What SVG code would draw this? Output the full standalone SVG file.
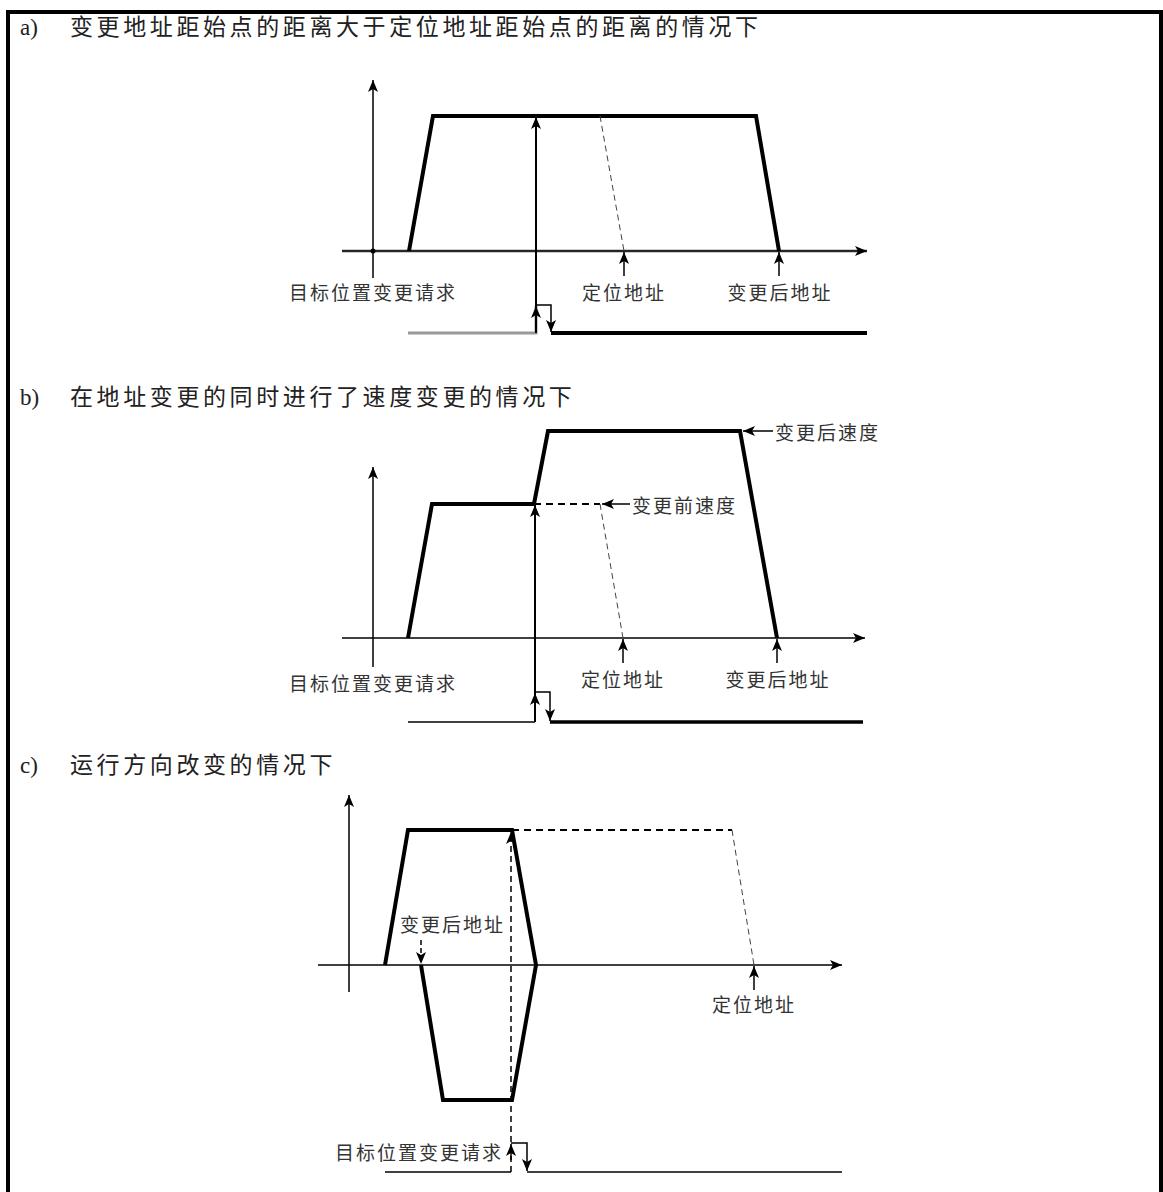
<svg xmlns="http://www.w3.org/2000/svg" width="1163" height="1192" viewBox="0 0 1163 1192">
<style>
.title{font-family:"Noto Sans CJK SC","Noto Sans",sans-serif;font-size:23px;letter-spacing:3.6px;fill:#222}
.lab{font-family:"Noto Sans CJK SC","Noto Sans",sans-serif;font-size:19px;letter-spacing:2px;fill:#333}
.pre{font-family:"Liberation Serif",serif;font-size:23px;fill:#222}
.ax{stroke:#000;stroke-width:1.5;fill:none}
.prof{stroke:#000;stroke-width:4;fill:none;stroke-linejoin:miter}
.thin{stroke:#000;stroke-width:1.5;fill:none}
.dthick{stroke:#000;stroke-width:2;fill:none;stroke-dasharray:7 5}
.dthin{stroke:#444;stroke-width:1;fill:none;stroke-dasharray:6 4}
.tall{stroke:#000;stroke-width:2;fill:none}
</style>
<defs>
<marker id="ah" viewBox="0 0 12 10" refX="12" refY="5" markerWidth="12" markerHeight="10" orient="auto" markerUnits="userSpaceOnUse"><path d="M0,0 L12,5 L0,10 L3,5 z" fill="#000"/></marker>
</defs>
<path d="M8,1192 V12 H1161 V1192" fill="none" stroke="#000" stroke-width="4"/>

<g id="titles">
<text class="pre" x="20" y="35">a)</text><text class="title" x="70" y="35">变更地址距始点的距离大于定位地址距始点的距离的情况下</text>
<text class="pre" x="20" y="405">b)</text><text class="title" x="70" y="405">在地址变更的同时进行了速度变更的情况下</text>
<text class="pre" x="20" y="773">c)</text><text class="title" x="70" y="773">运行方向改变的情况下</text>
</g>

<g id="section-a">
<line class="ax" x1="373" y1="278" x2="373" y2="80" marker-end="url(#ah)"/>
<line x1="342" y1="251" x2="867" y2="251" stroke="#999" stroke-width="3"/>
<line class="ax" x1="342" y1="251" x2="867" y2="251" marker-end="url(#ah)"/>
<circle cx="373" cy="251" r="2.5" fill="#000"/>
<polyline class="prof" points="409,251 433,116 756,116 779,251"/>
<line class="dthin" x1="600" y1="116" x2="624" y2="251"/>
<line class="thin" x1="624" y1="276" x2="624" y2="252" marker-end="url(#ah)"/>
<line class="thin" x1="779" y1="276" x2="779" y2="252" marker-end="url(#ah)"/>
<text class="lab" x="624" y="300" text-anchor="middle">定位地址</text>
<text class="lab" x="780" y="300" text-anchor="middle">变更后地址</text>
<text class="lab" x="373" y="300" text-anchor="middle">目标位置变更请求</text>
<path d="M408,333 H536 V306" fill="none" stroke="#999" stroke-width="3"/>
<line class="tall" x1="536" y1="333" x2="536" y2="117" marker-end="url(#ah)"/>
<line class="tall" x1="536" y1="333" x2="536" y2="306" marker-end="url(#ah)"/>
<path class="thin" d="M536,305 H551 V332" marker-end="url(#ah)"/>
<line x1="551" y1="333" x2="867" y2="333" stroke="#000" stroke-width="4"/>
</g>

<g id="section-b">
<line class="ax" x1="373" y1="667" x2="373" y2="467" marker-end="url(#ah)"/>
<line class="ax" x1="342" y1="638" x2="865" y2="638" marker-end="url(#ah)"/>
<polyline class="prof" points="408,638 432,504 534,504 548,431 740,431 777,638"/>
<line class="dthick" x1="534" y1="504" x2="600" y2="504"/>
<line class="dthin" x1="600" y1="504" x2="623" y2="638"/>
<line class="thin" x1="630" y1="504" x2="602" y2="504" marker-end="url(#ah)"/>
<text class="lab" x="632" y="513">变更前速度</text>
<line class="thin" x1="773" y1="431" x2="743" y2="431" marker-end="url(#ah)"/>
<text class="lab" x="775" y="440">变更后速度</text>
<line class="thin" x1="623" y1="663" x2="623" y2="639" marker-end="url(#ah)"/>
<line class="thin" x1="777" y1="663" x2="777" y2="639" marker-end="url(#ah)"/>
<text class="lab" x="623" y="687" text-anchor="middle">定位地址</text>
<text class="lab" x="778" y="687" text-anchor="middle">变更后地址</text>
<text class="lab" x="373" y="691" text-anchor="middle">目标位置变更请求</text>
<path class="thin" d="M408,722 H535"/>
<line class="tall" x1="535" y1="722" x2="535" y2="505" marker-end="url(#ah)"/>
<line class="tall" x1="535" y1="722" x2="535" y2="693" marker-end="url(#ah)"/>
<path class="thin" d="M535,692 H550 V721" marker-end="url(#ah)"/>
<line x1="550" y1="722" x2="863" y2="722" stroke="#000" stroke-width="3.5"/>
</g>

<g id="section-c">
<line class="ax" x1="349" y1="992" x2="349" y2="795" marker-end="url(#ah)"/>
<line class="ax" x1="318" y1="965" x2="842" y2="965" marker-end="url(#ah)"/>
<polyline class="prof" points="385,965 408,830 512,830 536,965 512,1100 443,1100 421,965"/>
<line class="dthick" x1="512" y1="830" x2="732" y2="830"/>
<line class="dthin" x1="732" y1="830" x2="754" y2="965"/>
<line class="thin" x1="754" y1="990" x2="754" y2="966" marker-end="url(#ah)"/>
<text class="lab" x="754" y="1012" text-anchor="middle">定位地址</text>
<text class="lab" x="400" y="932">变更后地址</text>
<line class="thin" x1="421" y1="940" x2="421" y2="964" stroke-dasharray="5 3" marker-end="url(#ah)"/>
<line x1="511" y1="1172" x2="511" y2="832" stroke="#000" stroke-width="1.5" stroke-dasharray="6 4" marker-end="url(#ah)"/>
<line class="thin" x1="511" y1="1160" x2="511" y2="1144" marker-end="url(#ah)"/>
<path class="thin" d="M511,1143 H527 V1171" marker-end="url(#ah)"/>
<path class="thin" d="M385,1172 H511"/>
<path class="thin" d="M527,1172 H842"/>
<text class="lab" x="503" y="1160" text-anchor="end">目标位置变更请求</text>
</g>
</svg>
